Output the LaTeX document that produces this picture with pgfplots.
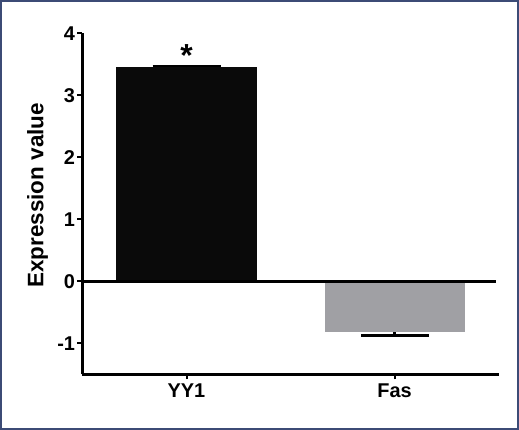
\documentclass[border=0pt]{standalone}
\usepackage{fontspec}
\setmainfont{Liberation Sans}
\usepackage{pgfplots}
\pgfplotsset{compat=1.18}

\definecolor{barblack}{RGB}{10,10,10}
\definecolor{bargray}{RGB}{160,160,164}
\definecolor{framenavy}{RGB}{60,75,118}

\begin{document}
\begin{tikzpicture}
\begin{axis}[
  scale only axis,
  width=416bp, height=341bp,
  at={(0bp,0bp)}, anchor=south west,
  xmin=-0.5, xmax=1.5,
  ymin=-1.5, ymax=4,
  axis x line*=bottom, axis y line*=left,
  axis line style={line width=2.5bp, black, -},
  xtick={0,1}, xticklabels={YY1,Fas},
  ytick={-1,0,1,2,3,4},
  tick align=outside,
  major tick length=5bp,
  tick style={line width=2bp, black},
  /pgf/number format/assume math mode=true,
  ticklabel style={font=\bfseries\fontsize{20}{22}\selectfont},
  y tick label style={xshift=1bp},
  x tick label style={font=\bfseries\fontsize{20}{22}\selectfont, yshift=-1bp},
  ylabel={Expression value},
  ylabel style={font=\bfseries\fontsize{22.5}{24}\selectfont, at={(axis description cs:-0.108,0.525)}, anchor=center},
  ybar, bar width=140bp, bar shift=0pt,
  clip=false,
]
\addplot[draw=none, fill=barblack,
  error bars/.cd, y dir=plus, y explicit,
  error bar style={line width=2bp, black},
  error mark options={line width=2bp, black, mark size=34bp, rotate=90}]
  coordinates {(0,3.45) +- (0,0.02)};
\addplot[draw=none, fill=bargray,
  error bars/.cd, y dir=minus, y explicit,
  error bar style={line width=2.5bp, black},
  error mark options={line width=2.5bp, black, mark size=34bp, rotate=90}]
  coordinates {(1,-0.82) +- (0,0.055)};
\draw[line width=2.5bp, black] (axis cs:-0.5,0) -- (axis cs:1.49,0);
\node[anchor=base, inner sep=0pt, font=\bfseries\fontsize{32}{32}\selectfont] at (axis cs:0,3.46) {*};
\end{axis}
\draw[framenavy, line width=2bp] (-81.5bp,-54.7bp) rectangle (435.5bp,373.3bp);
\end{tikzpicture}
\end{document}
